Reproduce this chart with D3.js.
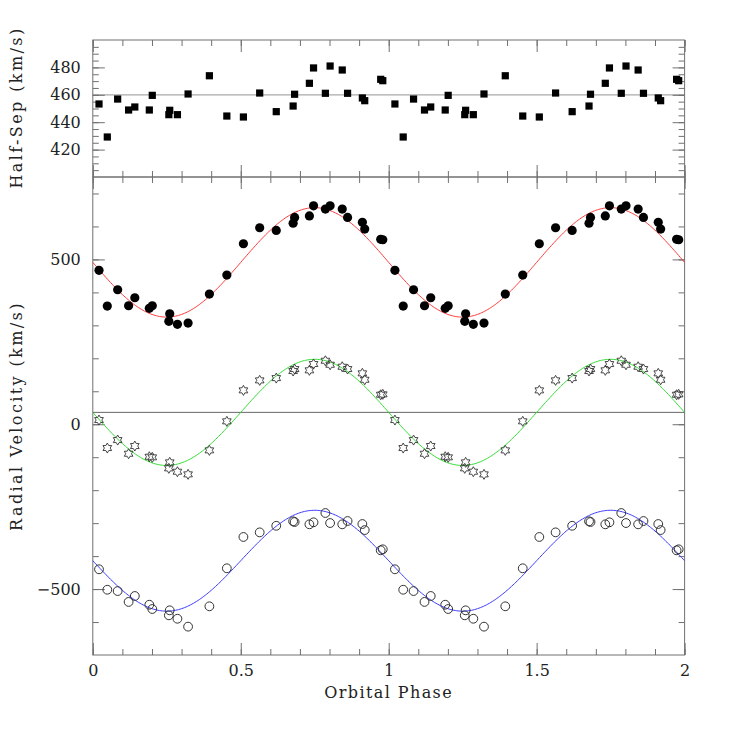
<!DOCTYPE html>
<html>
<head>
<meta charset="utf-8">
<title></title>
<style>
  body { margin: 0; background: #fff; }
  svg text { font-family: "DejaVu Serif", serif; fill: #222; }
</style>
</head>
<body>
<svg id="chart"></svg>
<script src="https://d3js.org/d3.v7.min.js"></script>
<script type="text/javascript">
// orbital phase of each spectrum (plotted twice, at phase and phase + 1)
const phase = [0.021, 0.049, 0.084, 0.121, 0.142, 0.191, 0.201, 0.257, 0.260, 0.286,
    0.322, 0.394, 0.453, 0.509, 0.564, 0.620, 0.677, 0.682, 0.732, 0.746,
    0.786, 0.802, 0.843, 0.861, 0.911, 0.919, 0.973, 0.980];
// half separation of the two components (km/s)
const halfSep = [453.3, 429.2, 456.9, 448.9, 451.1, 448.9, 459.6, 445.5, 448.7, 445.5,
    460.6, 473.9, 444.5, 443.8, 461.3, 447.7, 451.8, 460.4, 468.4, 479.6,
    461.1, 481.0, 478.1, 461.1, 457.7, 455.7, 471.3, 470.3];
// filled circles
const vFilled = [466.8, 358.5, 408, 359.4, 383.7, 351.5, 359.4, 312.1, 335.2, 303,
    307, 395, 452.5, 547.5, 596, 588, 610, 627.5, 632, 662.7,
    652.7, 662.7, 652.7, 627.5, 612.4, 592, 560.8, 559.6];
// stars
const vStar = [12.7, -72.2, -48, -89.5, -66.1, -98.6, -100.4, -133.8, -115.6, -144,
    -152, -79.2, 8.8, 102.8, 133.1, 140, 161.4, 167.4, 163.5, 182.6,
    192.6, 180.5, 174.4, 167.4, 154.4, 135, 89.5, 90.7];
// open circles
const vOpen = [-440, -502, -506, -539, -521, -547.5, -560.5, -579.6, -564.5, -590,
    -614, -552.3, -437, -342, -328, -308, -294.5, -296.6, -303.6, -297.5,
    -269.3, -299.7, -303.6, -293.6, -302.7, -321, -382.5, -379.4];

// sine fits: gamma, K
const fitFilled = {gamma: 491, K: 166, color: "#ff3b3b"};
const fitStar = {gamma: 36, K: 161, color: "#33dd33"};
const fitOpen = {gamma: -414, K: 153, color: "#3b3bff"};
const meanSep = 460;
const systemic = 36;

const xTicks = [0, 0.5, 1, 1.5, 2];
const topTicks = [420, 440, 460, 480];
const botTicks = [-500, 0, 500];

const width = 747, height = 747;
const plotLeft = 92.8, plotRight = 684.6;
const plotTop = 40, split = 177, plotBottom = 655;

const svg = d3.select("#chart")
    .attr("width", width)
    .attr("height", height);

const x = d3.scaleLinear().domain([0, 2]).range([plotLeft, plotRight]);
const yTop = d3.scaleLinear().domain([400, 500]).range([split, plotTop]);
const yBot = d3.scaleLinear().domain([-700, 750]).range([plotBottom, split]);

const axisColor = "#707070";

function drawTicks(y0, y1, y, major, minor, xLabels) {
    const g = svg.append("g");
    const xMinor = d3.range(0, 2.0001, 0.1);
    const put = (axis, tx, ty) => {
        const a = g.append("g").attr("transform", `translate(${tx},${ty})`).call(axis);
        a.select(".domain").remove();
        a.selectAll("line").attr("stroke", axisColor);
        return a;
    };
    // x axis, bottom edge
    const xb = put(d3.axisBottom(x).tickValues(xTicks).tickSizeInner(-12).tickSizeOuter(0)
        .tickPadding(10).tickFormat(xLabels ? d3.format("~g") : ""), 0, y1);
    xb.selectAll("text").attr("font-size", 16).attr("fill", "#222");
    put(d3.axisBottom(x).tickValues(xMinor).tickSizeInner(-6).tickSizeOuter(0).tickFormat(""), 0, y1);
    // x axis, top edge
    put(d3.axisTop(x).tickValues(xTicks).tickSizeInner(-12).tickSizeOuter(0).tickFormat(""), 0, y0);
    put(d3.axisTop(x).tickValues(xMinor).tickSizeInner(-6).tickSizeOuter(0).tickFormat(""), 0, y0);
    // y axis, left edge
    const yl = put(d3.axisLeft(y).tickValues(major).tickSizeInner(-12).tickSizeOuter(0)
        .tickPadding(12), plotLeft, 0);
    yl.selectAll("text").attr("font-size", 16).attr("fill", "#222");
    put(d3.axisLeft(y).tickValues(minor).tickSizeInner(-6).tickSizeOuter(0).tickFormat(""), plotLeft, 0);
    // y axis, right edge
    put(d3.axisRight(y).tickValues(major).tickSizeInner(-12).tickSizeOuter(0).tickFormat(""), plotRight, 0);
    put(d3.axisRight(y).tickValues(minor).tickSizeInner(-6).tickSizeOuter(0).tickFormat(""), plotRight, 0);
    g.selectAll("text").attr("font-family", "DejaVu Serif");
    // frame
    svg.append("rect")
        .attr("x", plotLeft).attr("y", y0)
        .attr("width", plotRight - plotLeft).attr("height", y1 - y0)
        .attr("fill", "none").attr("stroke", axisColor).attr("stroke-width", 1);
}

// reference lines
svg.append("line")
    .attr("x1", plotLeft).attr("x2", plotRight)
    .attr("y1", yTop(meanSep)).attr("y2", yTop(meanSep))
    .attr("stroke", "#aaa").attr("stroke-width", 1.2);
svg.append("line")
    .attr("x1", plotLeft).attr("x2", plotRight)
    .attr("y1", yBot(systemic)).attr("y2", yBot(systemic))
    .attr("stroke", "#666").attr("stroke-width", 1);

drawTicks(plotTop, split, yTop, topTicks, d3.range(405, 500, 5), false);
drawTicks(split, plotBottom, yBot, botTicks, d3.range(-600, 750, 100), true);

// fit curves
const curvePhase = d3.range(0, 2.0001, 0.005);
[fitFilled, fitStar, fitOpen].forEach(f => {
    svg.append("path")
        .datum(curvePhase)
        .attr("fill", "none")
        .attr("stroke", f.color)
        .attr("stroke-width", 1)
        .attr("d", d3.line()
            .x(p => x(p))
            .y(p => yBot(f.gamma - f.K * Math.sin(2 * Math.PI * p))));
});

// two cycles of every observation
function twoCycles(values) {
    const out = [];
    [0, 1].forEach(c => phase.forEach((p, i) => out.push({p: p + c, v: values[i]})));
    return out;
}

// half separation: filled squares
svg.append("g").selectAll("rect")
    .data(twoCycles(halfSep))
    .join("rect")
    .attr("x", d => x(d.p) - 3.6)
    .attr("y", d => yTop(d.v) - 3.6)
    .attr("width", 7.2).attr("height", 7.2)
    .attr("fill", "#000");

// filled circles
svg.append("g").selectAll("circle")
    .data(twoCycles(vFilled))
    .join("circle")
    .attr("cx", d => x(d.p))
    .attr("cy", d => yBot(d.v))
    .attr("r", 4.6)
    .attr("fill", "#000");

// stars (open hexagrams)
const starPath = (() => {
    const R = 5, r = R / Math.sqrt(3), pts = [];
    for (let k = 0; k < 12; k++) {
        const a = -Math.PI / 2 + k * Math.PI / 6;
        const rad = k % 2 === 0 ? R : r;
        pts.push([rad * Math.cos(a), rad * Math.sin(a)]);
    }
    return "M" + pts.map(p => p.join(",")).join("L") + "Z";
})();
svg.append("g").selectAll("path")
    .data(twoCycles(vStar))
    .join("path")
    .attr("transform", d => `translate(${x(d.p)},${yBot(d.v)})`)
    .attr("d", starPath)
    .attr("fill", "none")
    .attr("stroke", "#333")
    .attr("stroke-width", 0.9);

// open circles
svg.append("g").selectAll("circle")
    .data(twoCycles(vOpen))
    .join("circle")
    .attr("cx", d => x(d.p))
    .attr("cy", d => yBot(d.v))
    .attr("r", 4.4)
    .attr("fill", "none")
    .attr("stroke", "#333")
    .attr("stroke-width", 1);

// axis titles
svg.append("text")
    .attr("x", (plotLeft + plotRight) / 2)
    .attr("y", 698)
    .attr("text-anchor", "middle")
    .attr("font-size", 16)
    .attr("letter-spacing", 1.4)
    .text("Orbital Phase");
svg.append("text")
    .attr("transform", `translate(22,${(plotTop + split) / 2 - 1}) rotate(-90)`)
    .attr("text-anchor", "middle")
    .attr("font-size", 16)
    .attr("letter-spacing", 2.4)
    .text("Half-Sep (km/s)");
svg.append("text")
    .attr("transform", `translate(22,${(split + plotBottom) / 2}) rotate(-90)`)
    .attr("text-anchor", "middle")
    .attr("font-size", 16)
    .attr("letter-spacing", 2.4)
    .text("Radial Velocity (km/s)");
</script>
</body>
</html>
